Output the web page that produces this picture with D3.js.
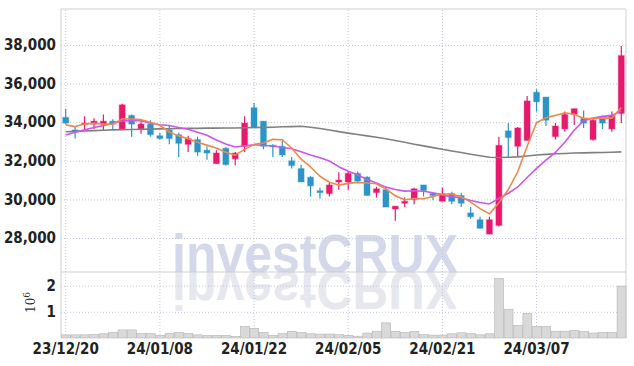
<!DOCTYPE html>
<html>
<head>
<meta charset="utf-8">
<script src="https://cdn.jsdelivr.net/npm/d3@7"></script>
<style>
  body { margin: 0; background: #fff; }
  .lbl text { font-family: "Liberation Sans Narrow", "Arial Narrow", "DejaVu Sans Condensed", sans-serif; font-weight: bold; font-size: 15px; fill: #222; }
  .wm { font-family: "Liberation Sans", Arial, sans-serif; font-weight: bold; font-size: 55px; }
</style>
</head>
<body>
<svg id="chart" width="634" height="366"></svg>
<script>
// trading days shown
const dates = ['23/12/20','23/12/21','23/12/22','23/12/26','23/12/27','23/12/28',
  '24/01/02','24/01/03','24/01/04','24/01/05','24/01/08','24/01/09','24/01/10','24/01/11','24/01/12',
  '24/01/15','24/01/16','24/01/17','24/01/18','24/01/19','24/01/22','24/01/23','24/01/24','24/01/25',
  '24/01/26','24/01/29','24/01/30','24/01/31','24/02/01','24/02/02','24/02/05','24/02/06','24/02/07',
  '24/02/08','24/02/13','24/02/14','24/02/15','24/02/16','24/02/19','24/02/20','24/02/21','24/02/22',
  '24/02/23','24/02/26','24/02/27','24/02/28','24/02/29','24/03/04','24/03/05','24/03/06','24/03/07',
  '24/03/08','24/03/11','24/03/12','24/03/13','24/03/14','24/03/15','24/03/18','24/03/19','24/03/20'];

const open  = [34250,33600,33900,33900,33900,34050,33650,34350,33650,33900,
               33300,33600,33350,32850,33100,32550,31850,32650,32100,32750,
               34750,34050,32800,32750,32000,31600,31150,30450,30300,30900,
               30900,31350,31150,30350,30500,29500,29800,30000,30750,30300,
               29900,30300,30200,29300,28950,28200,28650,33550,32750,33050,
               35550,35300,33250,33650,34400,34200,33100,34300,33650,34450];
const high  = [34700,33800,34300,34200,34400,34150,34950,34400,34100,34100,
               33450,33800,33450,33300,33250,32750,32550,32700,32450,34300,
               35000,34050,32850,33100,32200,31800,31200,30600,30850,31400,
               31450,31450,31200,30650,30650,29650,30100,30600,30750,30350,
               30600,30400,30350,29600,29100,29100,33250,33950,33750,35350,
               35700,35300,33950,34550,34700,34600,34200,34350,34550,37950];
const low   = [33900,33150,33600,33650,33550,33650,33600,33250,33400,33250,
               33100,32850,32200,32450,32250,32050,31850,31750,31750,32450,
               33700,32600,32200,32200,31600,30900,30150,30050,30150,30500,
               30500,30900,30200,30100,29600,28900,29600,29750,30150,29950,
               29900,29750,29600,29000,28500,28200,28600,32150,32200,33050,
               34550,33800,33100,33500,33850,33700,33050,33650,33500,33950];
const close = [33950,33500,33950,34050,34050,33900,34900,33900,33900,33350,
               33150,33150,32900,33150,32450,32400,32400,31800,32400,33950,
               33700,32750,32750,32300,31750,30900,30700,30350,30750,31000,
               31350,30950,30200,30550,29600,29650,29900,30550,30450,30200,
               30300,29900,29800,29100,28500,28950,32800,33200,33700,35100,
               35050,34100,33800,34400,34700,33950,34100,33950,34350,37450];
const volume = [120000,120000,120000,130000,160000,220000,310000,310000,170000,170000,
                100000,170000,210000,170000,120000,100000,100000,100000,60000,440000,
                370000,210000,100000,170000,250000,210000,160000,150000,150000,130000,
                100000,70000,190000,260000,580000,250000,210000,250000,130000,110000,
                110000,160000,200000,170000,120000,160000,2280000,1100000,480000,940000,
                440000,440000,260000,260000,290000,250000,190000,210000,210000,1980000];
const ma5  = [33860,33770,33900,33940,33900,33890,34170,34160,34130,33990,
              33840,33490,33290,33140,32960,32810,32660,32440,32290,32590,
              32850,32920,33110,33090,32650,32090,31680,31200,30890,30740,
              30830,30880,30850,30810,30530,30190,29980,30050,30030,30150,
              30280,30280,30130,29860,29520,29250,29830,30510,31430,32750,
              33970,34230,34350,34490,34410,34190,34190,34220,34210,34760];
const ma10 = [33340,33480,33600,33720,33820,33940,34060,34080,34080,33945,
              33865,33830,33725,33635,33475,33325,33075,32865,32715,32775,
              32830,32790,32775,32690,32620,32470,32300,32155,31990,31695,
              31460,31280,31025,30850,30635,30510,30430,30450,30420,30340,
              30235,30130,30090,29945,29835,29765,30055,30320,30645,31135,
              31610,32030,32430,32960,33580,34080,34210,34285,34350,34585];
const ma60 = [33500,33520,33540,33560,33580,33600,33610,33620,33630,33640,
              33650,33660,33670,33680,33680,33690,33690,33700,33700,33710,
              33720,33730,33740,33760,33770,33790,33740,33670,33590,33510,
              33430,33360,33290,33220,33140,33050,32960,32860,32770,32680,
              32600,32510,32430,32340,32260,32180,32170,32180,32200,32250,
              32300,32330,32360,32380,32400,32410,32420,32430,32440,32460];

const priceTicks = [28000, 30000, 32000, 34000, 36000, 38000];
const volTicks = [1000000, 2000000];
const dateTicks = ['23/12/20','24/01/08','24/01/22','24/02/05','24/02/21','24/03/07'];

const pLeft = 61, pRight = 626, pTop = 9, pMid = 272, pBottom = 338;

let svg = d3.select('#chart');

let x = d3.scaleBand().domain(dates).range([pLeft, pRight]);
let cx = (d) => x(d) + x.bandwidth() / 2;
let y = d3.scaleLinear().domain([26240, 39860]).range([pMid, pTop]);
let yv = d3.scaleLinear().domain([0, 2520000]).range([pBottom, pMid]);

let defs = svg.append('defs');
defs.append('clipPath').attr('id', 'clipP').append('rect')
    .attr('x', pLeft).attr('y', pTop).attr('width', pRight - pLeft).attr('height', pMid - pTop);
defs.append('clipPath').attr('id', 'clipV').append('rect')
    .attr('x', pLeft).attr('y', pMid).attr('width', pRight - pLeft).attr('height', pBottom - pMid);

// watermark + reflection (mirrored about the panel divider)
let wm = (g, fill) => g.append('text')
    .attr('class', 'wm')
    .attr('x', 172).attr('y', pMid + 1)
    .attr('textLength', 286).attr('lengthAdjust', 'spacingAndGlyphs')
    .attr('fill', fill)
    .text('investCRUX');
wm(svg.append('g').attr('clip-path', 'url(#clipP)'), '#d3d8ea');
wm(svg.append('g').attr('clip-path', 'url(#clipV)')
      .append('g').attr('transform', `translate(0,${2 * pMid}) scale(1,-1)`), '#e6e7ef');

// grid
let styleGrid = (g) => {
    g.select('.domain').remove();
    g.selectAll('line').attr('stroke', '#c4c4da').attr('stroke-dasharray', '1,2');
};
svg.append('g').attr('transform', `translate(${pLeft},0)`)
    .call(d3.axisLeft(y).tickValues(priceTicks).tickSize(-(pRight - pLeft)).tickFormat(''))
    .call(styleGrid);
svg.append('g').attr('transform', `translate(${pLeft},0)`)
    .call(d3.axisLeft(yv).tickValues(volTicks).tickSize(-(pRight - pLeft)).tickFormat(''))
    .call(styleGrid);
svg.append('g').attr('transform', `translate(0,${pBottom})`)
    .call(d3.axisBottom(x).tickValues(dateTicks).tickSize(-(pBottom - pTop)).tickFormat(''))
    .call(styleGrid);

// frame
let frame = [[pLeft, pTop, pRight, pTop], [pLeft, pTop, pLeft, pBottom], [pRight, pTop, pRight, pBottom], [pLeft, pMid, pRight, pMid]];
svg.append('g').selectAll('line').data(frame).enter().append('line')
    .attr('x1', d => d[0]).attr('y1', d => d[1]).attr('x2', d => d[2]).attr('y2', d => d[3])
    .attr('stroke', '#cfcfcf').attr('stroke-width', 1);

// volume
svg.append('g').selectAll('rect').data(volume).enter().append('rect')
    .attr('x', (d, i) => x(dates[i]) + 0.5)
    .attr('width', x.bandwidth() - 0.5)
    .attr('y', d => yv(d))
    .attr('height', d => pBottom - yv(d))
    .attr('fill', '#d9d9d9')
    .attr('stroke', '#b5b5b5')
    .attr('stroke-width', 0.6);

// candles
const up = '#e6196c', down = '#2b95c9';
let idx = d3.range(dates.length);
let colorOf = (i) => close[i] >= open[i] ? up : down;
let bw = 6;
let candles = svg.append('g');
candles.selectAll('line').data(idx).enter().append('line')
    .attr('x1', i => cx(dates[i])).attr('x2', i => cx(dates[i]))
    .attr('y1', i => y(high[i])).attr('y2', i => y(low[i]))
    .attr('stroke', colorOf).attr('stroke-width', 1.2);
candles.selectAll('rect').data(idx).enter().append('rect')
    .attr('x', i => cx(dates[i]) - bw / 2)
    .attr('width', bw)
    .attr('y', i => y(Math.max(open[i], close[i])))
    .attr('height', i => Math.max(1.5, Math.abs(y(open[i]) - y(close[i]))))
    .attr('fill', colorOf)
    .attr('stroke', colorOf).attr('stroke-opacity', 0.25).attr('stroke-width', 1.5);

// moving averages
let line = d3.line().x((d, i) => cx(dates[i])).y(d => y(d));
[[ma60, '#808080'], [ma10, '#cc55ee'], [ma5, '#f0884c']].forEach(([s, c]) => {
    svg.append('path').datum(s)
        .attr('d', line)
        .attr('fill', 'none')
        .attr('stroke', c)
        .attr('stroke-width', 1.6)
        .attr('stroke-linejoin', 'round');
});

// axis labels
svg.append('g').attr('class', 'lbl').attr('transform', `translate(${pLeft},0)`)
    .call(d3.axisLeft(y).tickValues(priceTicks).tickFormat(d3.format(',')).tickSize(0).tickPadding(5))
    .call(g => g.select('.domain').remove());
svg.append('g').attr('class', 'lbl').attr('transform', `translate(${pLeft},0)`)
    .call(d3.axisLeft(yv).tickValues(volTicks).tickFormat(d => d / 1e6).tickSize(0).tickPadding(5))
    .call(g => g.select('.domain').remove());
svg.append('g').attr('class', 'lbl').attr('transform', `translate(0,${pBottom})`)
    .call(d3.axisBottom(x).tickValues(dateTicks).tickSize(0).tickPadding(5))
    .call(g => g.select('.domain').remove());

let unit = svg.append('text')
    .attr('transform', 'translate(35,313) rotate(-90)')
    .style('font', '12px "DejaVu Serif", serif')
    .attr('fill', '#333');
unit.append('tspan').text('10');
unit.append('tspan').attr('dy', -5).style('font-size', '9px').text('6');
</script>
</body>
</html>
